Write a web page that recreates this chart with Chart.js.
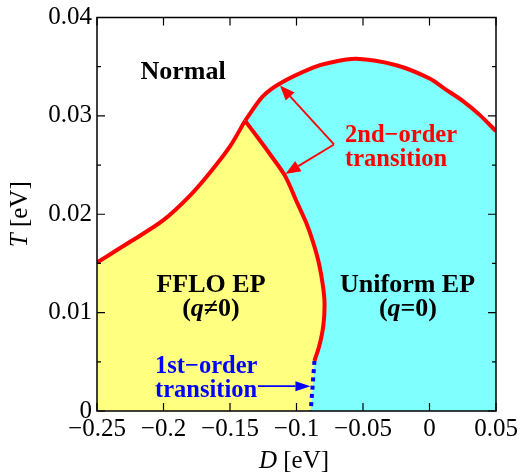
<!DOCTYPE html>
<html>
<head>
<meta charset="utf-8">
<script src="https://cdn.jsdelivr.net/npm/chart.js@4.4.0/dist/chart.umd.min.js"></script>
<style>
    html, body { margin: 0; padding: 0; background: #fff; }
    canvas { display: block; }
</style>
</head>
<body>
<canvas id="phaseChart" width="527" height="476"></canvas>
<script>
// Phase boundaries, as [D (eV), T (eV)]
const normalFflo = [
    [-0.25, 0.0151], [-0.2239, 0.0173], [-0.2001, 0.0194], [-0.1801, 0.0219],
    [-0.165, 0.02425], [-0.15, 0.0269], [-0.1387, 0.0295]
];
const normalUniform = [
    [-0.1387, 0.0295], [-0.1252, 0.0320], [-0.1124, 0.0333], [-0.0876, 0.0349],
    [-0.0751, 0.0354], [-0.055, 0.0358], [-0.025, 0.03515], [0.0001, 0.0338],
    [0.0126, 0.03264], [0.0252, 0.0315], [0.0377, 0.0301], [0.05, 0.02845]
];
const ffloUniform = [
    [-0.1387, 0.0295], [-0.1297, 0.0279], [-0.1199, 0.0261], [-0.1086, 0.0239],
    [-0.0996, 0.0212], [-0.0929, 0.0192], [-0.0876, 0.0172], [-0.0831, 0.015],
    [-0.0801, 0.0127], [-0.0789, 0.0109], [-0.0798, 0.0087], [-0.0829, 0.0066],
    [-0.0865, 0.0051]
];
const firstOrder = [[-0.0865, 0.0051], [-0.0893, 0]];

// Axis ticks
const xTicks = [-0.25, -0.2, -0.15, -0.1, -0.05, 0, 0.05];
const xTickLabels = ['\u22120.25', '\u22120.2', '\u22120.15', '\u22120.1', '\u22120.05', '0', '0.05'];
const yTicks = [0, 0.005, 0.01, 0.015, 0.02, 0.025, 0.03, 0.035, 0.04];
const yTickLabels = ['0', '', '0.01', '', '0.02', '', '0.03', '', '0.04'];

// Arrows: [from, to] in data units
const secondOrderArrows = [
    [[-0.0718, 0.0271], [-0.1124, 0.0331]],
    [[-0.0718, 0.0271], [-0.1083, 0.0241]]
];
const firstOrderArrow = [[-0.129, 0.00252], [-0.0895, 0.00252]];

const FONT = '"Liberation Serif", "DejaVu Serif", serif';

// Labels inside the plot
const textItems = [
    { parts: [['Normal']], D: -0.1853, T: 0.0337, align: 'center', size: 26, color: '#000' },
    { parts: [['FFLO EP']], D: -0.1643, T: 0.0121, align: 'center', size: 26, color: '#000' },
    { parts: [['('], ['q', true], ['\u22600)']], D: -0.1643, T: 0.00966, align: 'center', size: 26, color: '#000' },
    { parts: [['Uniform EP']], D: -0.0165, T: 0.0121, align: 'center', size: 26, color: '#000' },
    { parts: [['('], ['q', true], ['=0)']], D: -0.0162, T: 0.00966, align: 'center', size: 26, color: '#000' },
    { parts: [['2nd\u2212order']], D: -0.0635, T: 0.02737, align: 'left', size: 24.5, color: '#ff0000' },
    { parts: [['transition']], D: -0.0635, T: 0.02486, align: 'left', size: 24.5, color: '#ff0000' },
    { parts: [['1st\u2212order']], D: -0.2064, T: 0.00382, align: 'left', size: 24.5, color: '#0000ff' },
    { parts: [['transition']], D: -0.2064, T: 0.00141, align: 'left', size: 24.5, color: '#0000ff' }
];

function toXY(points) {
    return points.map(p => ({ x: p[0], y: p[1] }));
}

// Closed regions built from the boundaries
const ffloRegion = [[-0.25, 0]].concat(normalFflo, ffloUniform.slice(1), firstOrder.slice(1));
const uniformRegion = normalUniform.concat([[0.05, 0]], firstOrder.slice().reverse(), ffloUniform.slice(1, -1).reverse());

function drawParts(ctx, parts, x, y, align, size, weight, color) {
    const fonts = parts.map(p => (p[1] ? 'italic ' : '') + weight + ' ' + size + 'px ' + FONT);
    const widths = parts.map((p, i) => { ctx.font = fonts[i]; return ctx.measureText(p[0]).width; });
    const total = widths.reduce((a, b) => a + b, 0);
    let cx = align === 'center' ? x - total / 2 : x;
    ctx.fillStyle = color;
    ctx.textAlign = 'left';
    ctx.textBaseline = 'alphabetic';
    parts.forEach((p, i) => {
        ctx.font = fonts[i];
        ctx.fillText(p[0], cx, y);
        cx += widths[i];
    });
}

function drawArrow(ctx, x1, y1, x2, y2, color, width, headLen, headHalf) {
    const ang = Math.atan2(y2 - y1, x2 - x1);
    const bx = x2 - headLen * Math.cos(ang);
    const by = y2 - headLen * Math.sin(ang);
    ctx.strokeStyle = color;
    ctx.fillStyle = color;
    ctx.lineWidth = width;
    ctx.beginPath();
    ctx.moveTo(x1, y1);
    ctx.lineTo(bx, by);
    ctx.stroke();
    ctx.beginPath();
    ctx.moveTo(x2, y2);
    ctx.lineTo(bx + headHalf * Math.sin(ang), by - headHalf * Math.cos(ang));
    ctx.lineTo(bx - headHalf * Math.sin(ang), by + headHalf * Math.cos(ang));
    ctx.closePath();
    ctx.fill();
}

// Frame, inward ticks, arrows and text
const decorations = {
    id: 'decorations',
    afterDatasetsDraw(chart) {
        const ctx = chart.ctx;
        const a = chart.chartArea;
        const xs = chart.scales.x;
        const ys = chart.scales.y;
        ctx.save();

        // arrows
        secondOrderArrows.forEach(([f, t]) => {
            drawArrow(ctx, xs.getPixelForValue(f[0]), ys.getPixelForValue(f[1]),
                xs.getPixelForValue(t[0]), ys.getPixelForValue(t[1]), '#ff0000', 1.8, 15, 6);
        });
        drawArrow(ctx, xs.getPixelForValue(firstOrderArrow[0][0]), ys.getPixelForValue(firstOrderArrow[0][1]),
            xs.getPixelForValue(firstOrderArrow[1][0]), ys.getPixelForValue(firstOrderArrow[1][1]), '#0000ff', 1.8, 15, 5);

        // texts
        textItems.forEach(t => {
            drawParts(ctx, t.parts, xs.getPixelForValue(t.D), ys.getPixelForValue(t.T), t.align, t.size, 'bold', t.color);
        });

        // ticks
        ctx.strokeStyle = '#000';
        ctx.lineWidth = 1.2;
        ctx.beginPath();
        xTicks.forEach(v => {
            const px = xs.getPixelForValue(v);
            ctx.moveTo(px, a.bottom); ctx.lineTo(px, a.bottom - 8);
            ctx.moveTo(px, a.top); ctx.lineTo(px, a.top + 8);
        });
        yTicks.forEach((v, i) => {
            const py = ys.getPixelForValue(v);
            const len = yTickLabels[i] ? 8 : 4;
            ctx.moveTo(a.left, py); ctx.lineTo(a.left + len, py);
            ctx.moveTo(a.right, py); ctx.lineTo(a.right - len, py);
        });
        ctx.stroke();
        ctx.lineWidth = 1.5;
        ctx.strokeRect(a.left, a.top, a.right - a.left, a.bottom - a.top);

        // axis titles
        drawParts(ctx, [['D', true], [' [eV]']], 294, 468, 'center', 25, 'normal', '#000');
        ctx.translate(27, (a.top + a.bottom) / 2);
        ctx.rotate(-Math.PI / 2);
        drawParts(ctx, [['T', true], [' [eV]']], 0, 0, 'center', 25, 'normal', '#000');
        ctx.restore();
    }
};

const tickFont = { family: FONT, size: 25, lineHeight: 1 };

function buildChart() {
    new Chart(document.getElementById('phaseChart'), {
        type: 'scatter',
        data: {
            datasets: [
                {
                    data: toXY(normalFflo),
                    showLine: true, borderColor: '#ff0000', borderWidth: 4,
                    pointRadius: 0, tension: 0.3, fill: false, clip: 0
                },
                {
                    data: toXY(normalUniform),
                    showLine: true, borderColor: '#ff0000', borderWidth: 4,
                    pointRadius: 0, tension: 0.3, fill: false, clip: 0
                },
                {
                    data: toXY(ffloUniform),
                    showLine: true, borderColor: '#ff0000', borderWidth: 4,
                    pointRadius: 0, tension: 0.3, fill: false, clip: 0
                },
                {
                    data: toXY(firstOrder),
                    showLine: true, borderColor: '#0000ff', borderWidth: 4,
                    borderDash: [4, 4.3], pointRadius: 0, tension: 0, fill: false, clip: 0
                },
                {
                    data: toXY(ffloRegion),
                    showLine: true, borderColor: 'rgba(0,0,0,0)', borderWidth: 0,
                    backgroundColor: '#ffff80', pointRadius: 0, tension: 0, fill: 'shape'
                },
                {
                    data: toXY(uniformRegion),
                    showLine: true, borderColor: 'rgba(0,0,0,0)', borderWidth: 0,
                    backgroundColor: '#80ffff', pointRadius: 0, tension: 0, fill: 'shape'
                }
            ]
        },
        options: {
            responsive: false,
            animation: false,
            layout: { padding: { top: 13, right: 31, left: 0, bottom: 0 } },
            plugins: {
                legend: { display: false },
                tooltip: { enabled: false }
            },
            scales: {
                x: {
                    type: 'linear',
                    min: -0.25,
                    max: 0.05,
                    afterBuildTicks: scale => { scale.ticks = xTicks.map(v => ({ value: v })); },
                    afterFit: scale => { scale.height = 65; },
                    ticks: {
                        autoSkip: false,
                        maxRotation: 0,
                        padding: 6,
                        color: '#000',
                        font: tickFont,
                        callback: (value, index) => xTickLabels[index]
                    },
                    grid: { display: false, drawTicks: false },
                    border: { display: false }
                },
                y: {
                    type: 'linear',
                    min: 0,
                    max: 0.04,
                    afterBuildTicks: scale => { scale.ticks = yTicks.map(v => ({ value: v })); },
                    afterFit: scale => { scale.width = 97; },
                    ticks: {
                        autoSkip: false,
                        padding: 5,
                        color: '#000',
                        font: tickFont,
                        callback: (value, index) => yTickLabels[index]
                    },
                    grid: { display: false, drawTicks: false },
                    border: { display: false }
                }
            }
        },
        plugins: [decorations]
    });
}

// make sure the serif face is ready before drawing
Promise.all([
    document.fonts.load('25px "Liberation Serif"'),
    document.fonts.load('bold 26px "Liberation Serif"'),
    document.fonts.load('italic 25px "Liberation Serif"'),
    document.fonts.load('italic bold 26px "Liberation Serif"')
]).catch(() => {}).then(buildChart);
</script>
</body>
</html>
